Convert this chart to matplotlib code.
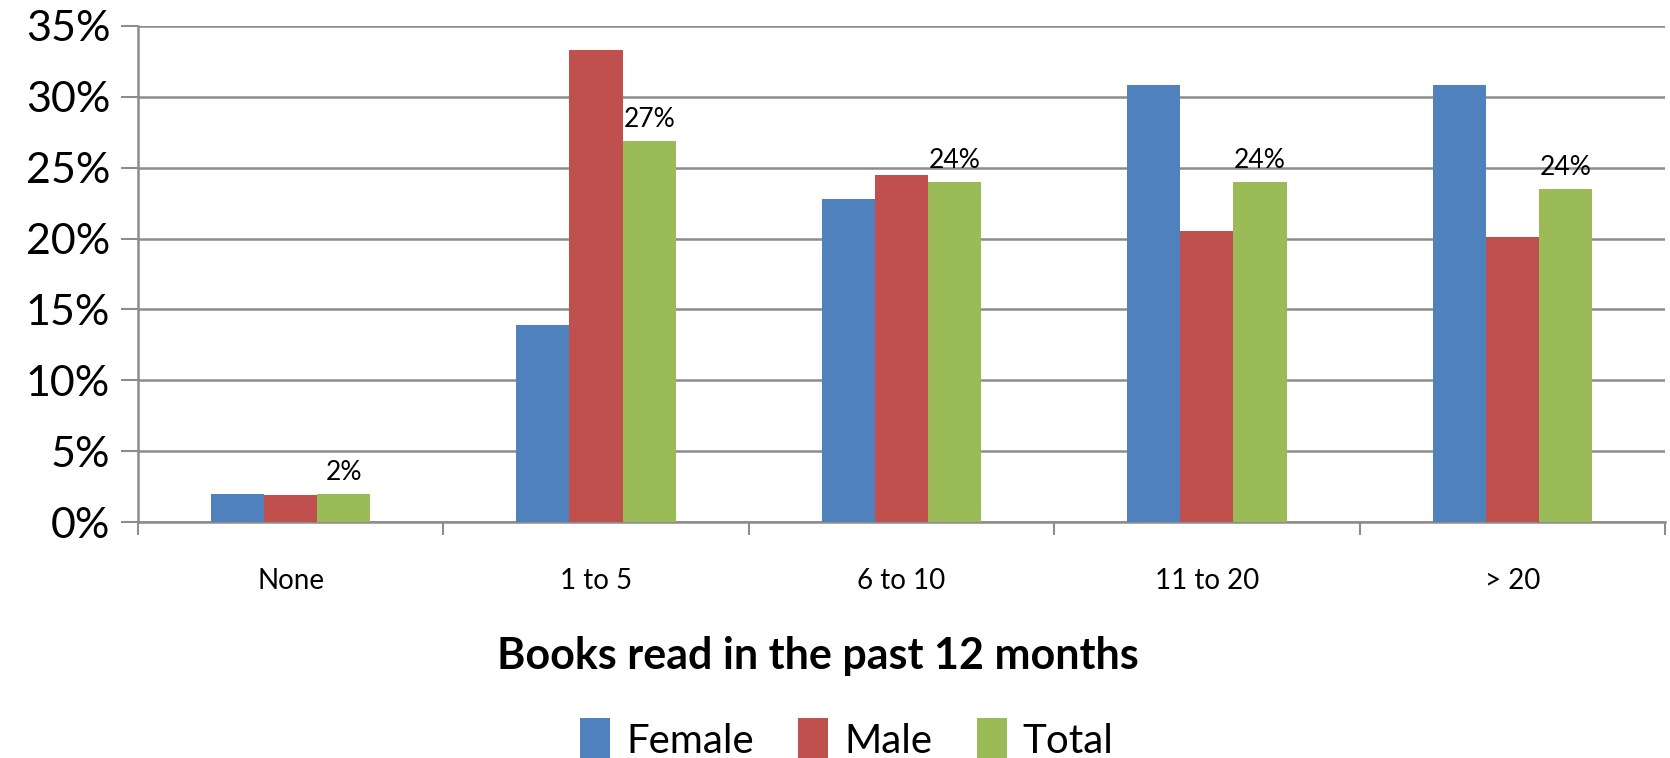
import numpy as np
import matplotlib
matplotlib.use("Agg")
import matplotlib.pyplot as plt
from matplotlib.ticker import PercentFormatter, FixedLocator

plt.rcParams['font.family'] = ['Lato', 'DejaVu Sans']

# Data
categories = ['None', '1 to 5', '6 to 10', '11 to 20', '> 20']
female = [2.0, 13.9, 22.8, 30.8, 30.8]
male = [1.9, 33.3, 24.5, 20.5, 20.1]
total = [2.0, 26.9, 24.0, 24.0, 23.5]
total_labels = ['2%', '27%', '24%', '24%', '24%']

colors = ['#4F81BD', '#C0504D', '#9BBB59']
series = [('Female', female), ('Male', male), ('Total', total)]

fig = plt.figure(figsize=(16.7, 7.58), dpi=100)
ax = fig.add_axes([0.0826, 0.311, 0.9144, 0.655])

x = np.arange(len(categories))
w = 0.174
for i, (name, vals) in enumerate(series):
    bars = ax.bar(x + (i - 1) * w, vals, w, color=colors[i], label=name, zorder=3)
    if name == 'Total':
        for b, lab in zip(bars, total_labels):
            ax.text(b.get_x() + b.get_width() / 2, b.get_height() + 0.6, lab,
                    ha='center', va='bottom', fontsize=19)

ax.set_xlim(-0.5, len(categories) - 0.5)
ax.set_ylim(0, 35)
ax.set_yticks(np.arange(0, 36, 5))
ax.yaxis.set_major_formatter(PercentFormatter(decimals=0))
ax.grid(axis='y', color='#8c8c8c', linewidth=1.8, zorder=0)

ax.set_xticks(x)
ax.set_xticklabels(categories, fontsize=20)
ax.xaxis.set_minor_locator(FixedLocator(np.arange(-0.5, len(categories), 1.0)))
ax.tick_params(axis='x', which='major', length=0, pad=33)
ax.tick_params(axis='x', which='minor', length=9, width=1.5, color='#8c8c8c')
ax.tick_params(axis='y', labelsize=31, length=12, width=1.5, color='#8c8c8c', pad=8)

for s in ['top', 'right']:
    ax.spines[s].set_visible(False)
for s in ['left', 'bottom']:
    ax.spines[s].set_color('#8c8c8c')
    ax.spines[s].set_linewidth(1.8)

ax.set_xlabel('Books read in the past 12 months', fontsize=31, fontweight='bold', labelpad=30)
ax.xaxis.label.set_x(0.445)

fig.legend(loc='lower center', bbox_to_anchor=(0.507, -0.05), ncol=3, frameon=False,
           fontsize=29, handlelength=0.75, handleheight=1.2, columnspacing=1.1,
           handletextpad=0.4)

fig.savefig('out.png', dpi=100)
